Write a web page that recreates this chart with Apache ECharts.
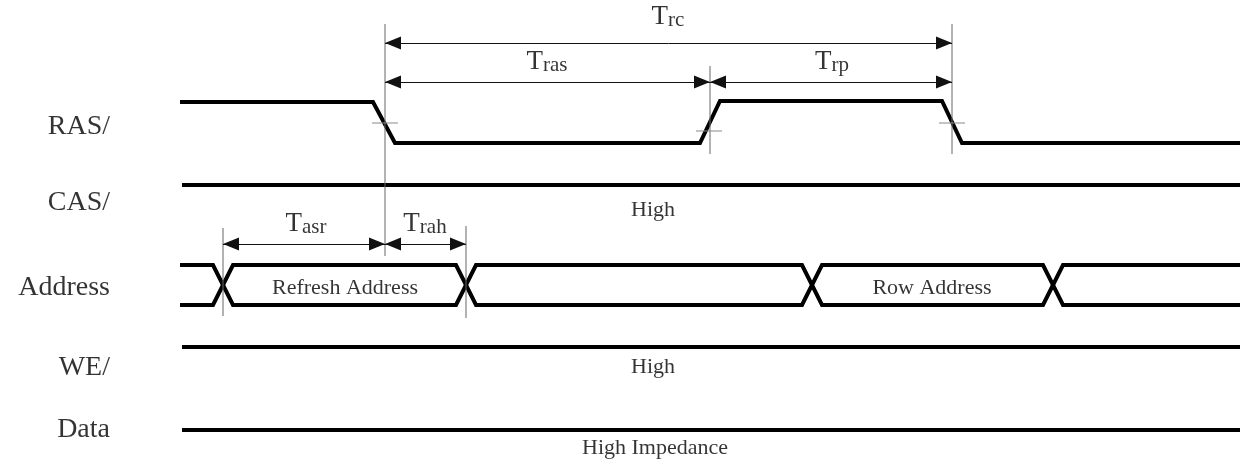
<!DOCTYPE html>
<html>
<head>
<meta charset="utf-8">
<script src="https://cdn.jsdelivr.net/npm/echarts@6/dist/echarts.min.js"></script>
<style>
  html, body { margin: 0; padding: 0; background: #fff; }
  #chart { width: 1243px; height: 462px; }
</style>
</head>
<body>
<div id="chart"></div>
<script>
// signal names and where their rows sit
const signalNames = ['RAS/', 'CAS/', 'Address', 'WE/', 'Data'];
const signalRowY = [127, 203, 288, 368, 430];

// RAS/ waveform (time, level)
const rasT = [180, 373, 395, 700, 720, 942, 962, 1240];
const rasY = [102, 102, 143, 143, 101, 101, 143, 143];

// flat lines
const casT = [182, 1240], casY = 185;
const weT = [182, 1240], weY = 347;
const dataT = [182, 1240], dataY = 430;

// address bus: crossing times and rails
const addrStart = 180, addrEnd = 1240;
const addrCross = [223, 466, 812, 1053];
const addrHalf = 10;
const addrTop = 265, addrBot = 305;

// timing reference lines [x, yFrom, yTo]
const guides = [[385, 24, 256], [710, 66, 154], [952, 24, 154], [223, 228, 316], [466, 226, 318]];
// threshold ticks on RAS/ edges [x, y, half width]
const ticks = [[385, 123, 13], [709, 131, 13], [952, 123, 13]];

// dimension arrows [from, to, y, T, subscript, labelX, labelY]
const dims = [
  [385, 952, 43, 'T', 'rc', 668, 17],
  [385, 710, 82, 'T', 'ras', 547, 62],
  [710, 952, 82, 'T', 'rp', 832, 62],
  [223, 385, 244, 'T', 'asr', 306, 224],
  [385, 466, 244, 'T', 'rah', 425, 224]
];

// state texts [text, x, y]
const notes = [
  ['High', 653, 210],
  ['Refresh Address', 345, 288],
  ['Row Address', 932, 288],
  ['High', 653, 367],
  ['High Impedance', 655, 448]
];

const serif = 'Liberation Serif, Times New Roman, serif';
// filled arrow head, tip sits on the anchor point
const arrowHead = 'path://M5,0 L5,0 M5,10 L10,20 L0,20 Z';

function zip(xs, ys) { return xs.map((x, i) => [x, Array.isArray(ys) ? ys[i] : ys]); }

function busLine(startTop) {
  let top = startTop;
  const pts = [[addrStart, top ? addrTop : addrBot]];
  addrCross.forEach(c => {
    pts.push([c - addrHalf, top ? addrTop : addrBot]);
    top = !top;
    pts.push([c + addrHalf, top ? addrTop : addrBot]);
  });
  pts.push([addrEnd, top ? addrTop : addrBot]);
  return pts;
}

function segs(list) {
  const out = [];
  list.forEach(s => { out.push(s[0], s[1], null); });
  return out;
}

const wave = (name, data) => ({
  name, type: 'line', data, symbol: 'none', silent: true,
  lineStyle: { color: '#000', width: 4, join: 'miter', cap: 'butt' }
});

const chart = echarts.init(document.getElementById('chart'), null, { renderer: 'canvas' });

chart.setOption({
  animation: false,
  backgroundColor: '#fff',
  grid: { left: 0, right: 0, top: 0, bottom: 0 },
  xAxis: { type: 'value', min: 0, max: 1243, show: false },
  yAxis: { type: 'value', min: 0, max: 462, inverse: true, show: false },
  series: [
    wave('RAS/', zip(rasT, rasY)),
    wave('CAS/', zip(casT, casY)),
    wave('AddrA', busLine(true)),
    wave('AddrB', busLine(false)),
    wave('WE/', zip(weT, weY)),
    wave('Data', zip(dataT, dataY)),
    {
      name: 'guides', type: 'line', symbol: 'none', silent: true, connectNulls: false,
      data: segs(guides.map(g => [[g[0], g[1]], [g[0], g[2]]])),
      lineStyle: { color: '#666', width: 1 }
    },
    {
      name: 'ticks', type: 'line', symbol: 'none', silent: true, connectNulls: false,
      data: segs(ticks.map(t => [[t[0] - t[2], t[1]], [t[0] + t[2], t[1]]])),
      lineStyle: { color: '#8a8a8a', width: 1.2 }
    },
    {
      name: 'dims', type: 'line', data: [], silent: true,
      markLine: {
        silent: true,
        symbol: [arrowHead, arrowHead],
        symbolSize: [13, 32],
        symbolKeepAspect: false,
        lineStyle: { color: '#111', width: 1, type: 'solid' },
        itemStyle: { color: '#000' },
        label: { show: false },
        data: dims.map(d => [{ coord: [d[0], d[2]] }, { coord: [d[1], d[2]] }])
      }
    },
    {
      name: 'dimLabels', type: 'scatter', symbolSize: 0, silent: true,
      data: dims.map(d => ({ value: [d[5], d[6]], t: d[3], s: d[4] })),
      label: {
        show: true, position: 'inside',
        formatter: p => '{a|' + p.data.t + '}{b|' + p.data.s + '}',
        rich: {
          a: { fontFamily: serif, fontSize: 27, color: '#000', verticalAlign: 'bottom' },
          b: { fontFamily: serif, fontSize: 21, color: '#000', verticalAlign: 'bottom' }
        }
      }
    },
    {
      name: 'names', type: 'scatter', symbolSize: 0, silent: true,
      data: signalNames.map((n, i) => ({ value: [110, signalRowY[i]], name: n })),
      label: {
        show: true, position: 'left', distance: 0,
        formatter: p => p.name,
        fontFamily: serif, fontSize: 28, color: '#000'
      }
    },
    {
      name: 'notes', type: 'scatter', symbolSize: 0, silent: true,
      data: notes.map(n => ({ value: [n[1], n[2]], name: n[0] })),
      label: {
        show: true, position: 'inside',
        formatter: p => p.name,
        fontFamily: serif, fontSize: 22, color: '#000'
      }
    }
  ]
});
</script>
</body>
</html>
